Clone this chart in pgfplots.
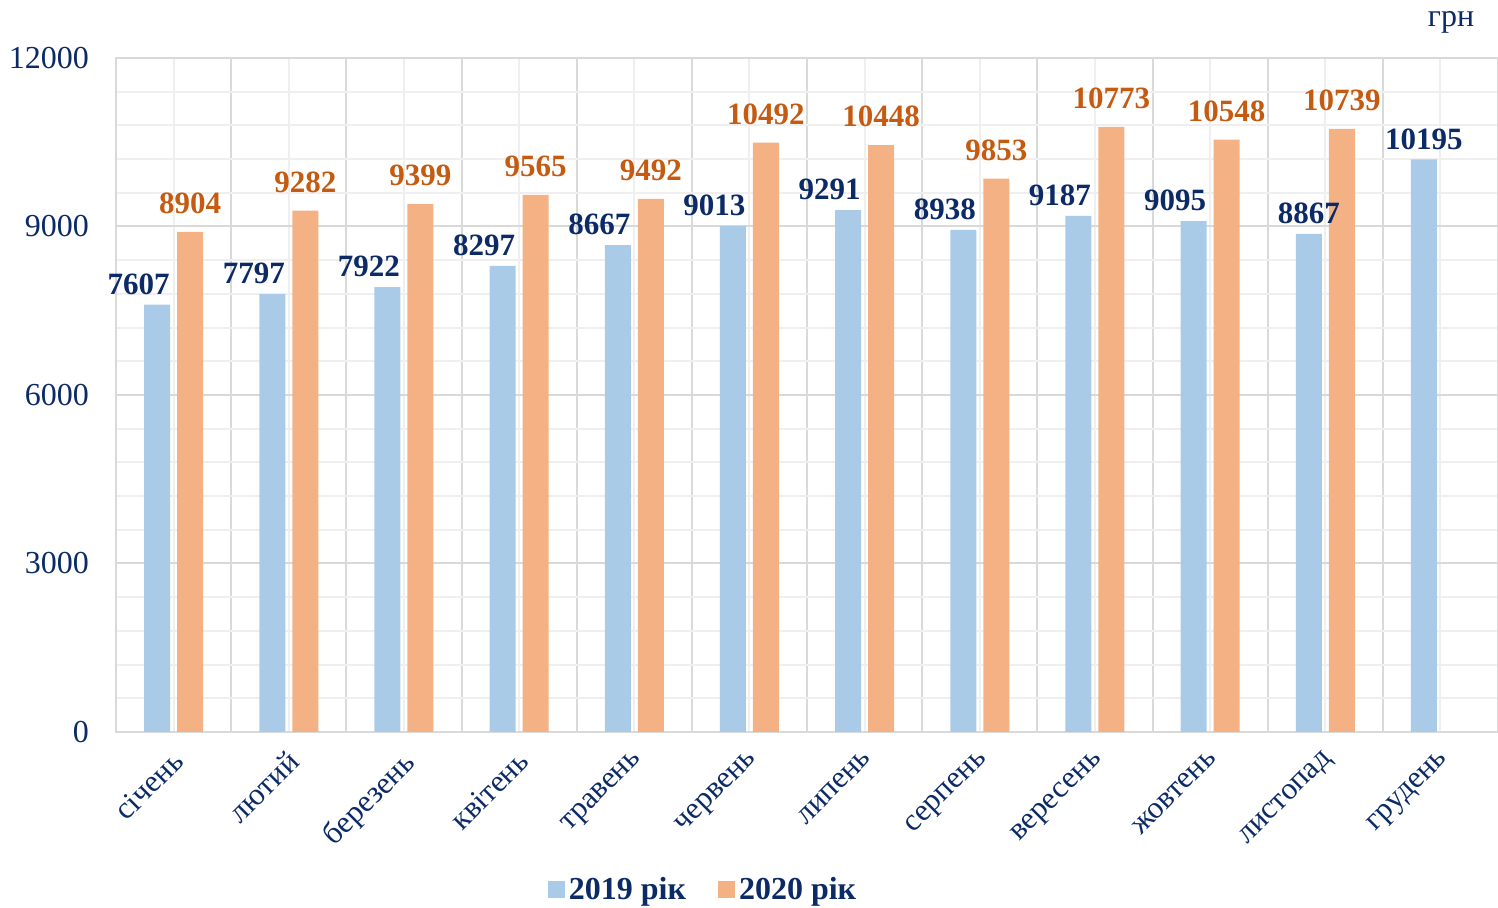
\documentclass[border=0pt]{standalone}
\usepackage{pgfplots}
\pgfplotsset{compat=1.18}
\usepackage{fontspec}
\setmainfont{Liberation Serif}
\definecolor{navy}{HTML}{0B2A66}
\definecolor{barblue}{HTML}{A9CBE8}
\definecolor{barorange}{HTML}{F4B183}
\definecolor{lblorange}{HTML}{C55A11}
\definecolor{gridmajor}{HTML}{D9D9D9}
\definecolor{gridminor}{HTML}{EFEFEF}
\pgfplotstableread{
x y dx
0 7607 -9.25
1 7797 -9.25
2 7922 -9.25
3 8297 -9.25
4 8667 -9.25
5 9013 -9.25
6 9291 -9.25
7 8938 -9.25
8 9187 -9.25
9 9095 -9.25
10 8867 0
11 10195 0
}\blue
\pgfplotstableread{
x y
0 8904
1 9282
2 9399
3 9565
4 9492
5 10492
6 10448
7 9853
8 10773
9 10548
10 10739
}\orange
\begin{document}
\begin{tikzpicture}
\useasboundingbox (-58pt,-88pt) rectangle (691pt,366pt);
\begin{axis}[
  at={(0,0)}, anchor=south west,
  scale only axis, width=691pt, height=337pt,
  ybar, bar width=13pt,
  xmin=-0.5, xmax=11.5, ymin=0, ymax=12000,
  xtick={0,...,11},
  xticklabels={січень, лютий, березень, квітень, травень, червень, липень, серпень, вересень, жовтень, листопад, грудень},
  minor xtick={-0.5,0.5,...,11.5},
  ytick={0,3000,...,12000},
  minor ytick={600,1200,...,11400},
  grid=both,
  major x grid style={draw=gridminor, line width=1pt},
  minor x grid style={draw=gridmajor, line width=1pt},
  major y grid style={draw=gridmajor, line width=1pt},
  minor y grid style={draw=gridminor, line width=1pt},
  axis line style={draw=gridmajor, line width=1pt},
  major tick length=0pt, minor tick length=0pt,
  scaled y ticks=false,
  /pgf/number format/assume math mode=true,
  y tick label style={/pgf/number format/1000 sep={}, font=\fontsize{16}{16}\selectfont, text=navy, xshift=-10pt},
  x tick label style={xshift=-1.5pt, yshift=-3.5pt, rotate=45, anchor=north east, font=\fontsize{15.5}{15.5}\selectfont, text=navy},
  legend style={at={(0.4255,-0.2344)}, anchor=center, draw=none, fill=none,
    legend columns=2, font=\bfseries\fontsize{16}{16}\selectfont, text=navy,
    /tikz/every even column/.append style={column sep=14pt}},
  legend image code/.code={\fill[#1] (0pt,-4.25pt) rectangle (8.5pt,4.25pt);},
  clip=false,
]
\addplot[fill=barblue, draw=none, bar shift=-8.25pt,
  nodes near coords, point meta=explicit,
  visualization depends on={\thisrow{dx} \as \dx},
  every node near coord/.append style={font=\bfseries\fontsize{15.5}{15.5}\selectfont, text=navy, xshift=\dx pt, yshift=1.5pt, /pgf/number format/1000 sep={}}
  ] table[x=x, y=y, meta=y] {\blue};
\addlegendentry{2019 рік}
\addplot[fill=barorange, draw=none, bar shift=8.25pt,
  nodes near coords, point meta=explicit,
  every node near coord/.append style={font=\bfseries\fontsize{15.5}{15.5}\selectfont, text=lblorange, yshift=5.5pt, /pgf/number format/1000 sep={}}
  ] table[x=x, y=y, meta=y] {\orange};
\addlegendentry{2020 рік}
\node[font=\fontsize{16}{16}\selectfont, text=navy] at (rel axis cs:0.966,1.053) {грн};
\end{axis}
\end{tikzpicture}
\end{document}
